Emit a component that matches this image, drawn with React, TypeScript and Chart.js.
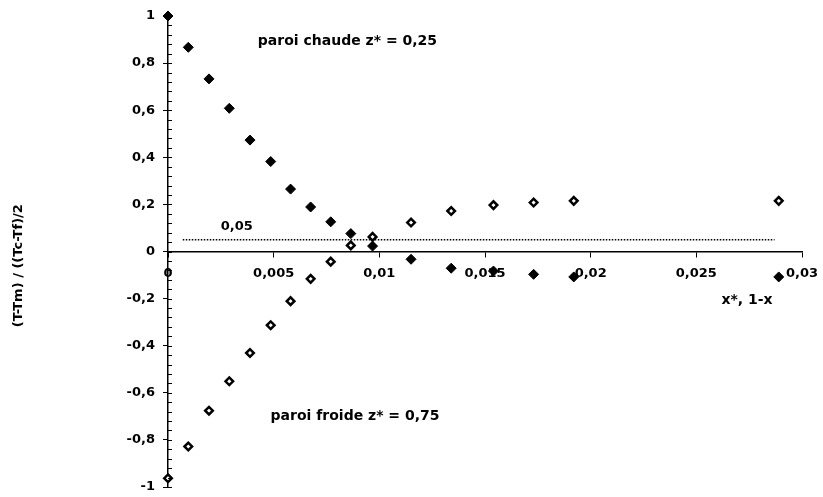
import React, { useEffect, useRef } from "react";
import { Chart, registerables } from "chart.js";

Chart.register(...registerables);

// ---- data ----
const xValues = [0, 0.00096, 0.00194, 0.0029, 0.00388, 0.00486, 0.0058, 0.00675, 0.0077, 0.00865, 0.00968, 0.0115, 0.0134, 0.0154, 0.0173, 0.0192, 0.0289];
const hotWall = [1.0, 0.867, 0.733, 0.608, 0.473, 0.382, 0.265, 0.189, 0.126, 0.076, 0.023, -0.033, -0.071, -0.083, -0.097, -0.108, -0.108];
const coldWall = [-0.963, -0.828, -0.676, -0.551, -0.431, -0.313, -0.211, -0.116, -0.043, 0.026, 0.062, 0.123, 0.172, 0.197, 0.208, 0.215, 0.215];

const thresholdX = [0.0007, 0.0287];
const thresholdY = [0.05, 0.05];

const xTickValues = [0, 0.005, 0.01, 0.015, 0.02, 0.025, 0.03];
const xTickLabels = ["0", "0,005", "0,01", "0,015", "0,02", "0,025", "0,03"];
const yTickValues = [-1, -0.8, -0.6, -0.4, -0.2, 0, 0.2, 0.4, 0.6, 0.8, 1];
const yTickLabels = ["-1", "-0,8", "-0,6", "-0,4", "-0,2", "0", "0,2", "0,4", "0,6", "0,8", "1"];
const yMinorStep = 0.04;

const yTitle = "(T-Tm) / ((Tc-Tf)/2";
const xTitle = "x*, 1-x";
const notes = [
  { text: "paroi chaude z* = 0,25", x: 0.00849, y: 0.891, size: 14 },
  { text: "paroi froide z* = 0,75", x: 0.00885, y: -0.70, size: 14 },
  { text: "0,05", x: 0.00325, y: 0.106, size: 13 },
  { text: xTitle, x: 0.0274, y: -0.206, size: 14 },
];

const FONT = '"DejaVu Sans", "Liberation Sans", Arial, sans-serif';

const decorPlugin = {
  id: "decor",
  afterDraw(chart: any) {
    const { ctx, scales } = chart;
    const x = scales.x;
    const y = scales.y;
    ctx.save();
    // minor ticks on the y axis (right side)
    ctx.strokeStyle = "#000";
    ctx.lineWidth = 1;
    const ax = Math.round(y.right);
    for (let i = 0; ; i++) {
      const v = y.min + i * yMinorStep;
      if (v > y.max + 1e-9) break;
      const py = Math.round(y.getPixelForValue(v)) + 0.5;
      ctx.beginPath();
      ctx.moveTo(ax, py);
      ctx.lineTo(ax + 4, py);
      ctx.stroke();
    }
    // annotations
    ctx.fillStyle = "#000";
    ctx.textAlign = "center";
    ctx.textBaseline = "middle";
    for (const n of notes) {
      ctx.font = `bold ${n.size}px ${FONT}`;
      ctx.fillText(n.text, x.getPixelForValue(n.x), y.getPixelForValue(n.y));
    }
    // y title
    ctx.font = `bold 13px ${FONT}`;
    ctx.translate(19, y.getPixelForValue(-0.06));
    ctx.rotate(-Math.PI / 2);
    ctx.fillText(yTitle, 0, 0);
    ctx.restore();
  },
};

export default function App() {
  const ref = useRef<HTMLCanvasElement>(null);
  useEffect(() => {
    const canvas = ref.current!;
    const chart = new Chart(canvas, {
      type: "scatter",
      data: {
        datasets: [
          {
            label: "paroi chaude",
            data: xValues.map((xv, i) => ({ x: xv, y: hotWall[i] })),
            pointStyle: "rectRot",
            pointRadius: 5,
            backgroundColor: "#000",
            borderColor: "#000",
            borderWidth: 1,
            clip: false,
          } as any,
          {
            label: "paroi froide",
            data: xValues.map((xv, i) => ({ x: xv, y: coldWall[i] })),
            pointStyle: "rectRot",
            pointRadius: 3.8,
            backgroundColor: "#fff",
            borderColor: "#000",
            borderWidth: 2.5,
            clip: false,
          } as any,
          {
            label: "0,05",
            data: thresholdX.map((xv, i) => ({ x: xv, y: thresholdY[i] })),
            showLine: true,
            borderColor: "#000",
            borderWidth: 1.5,
            borderDash: [1.5, 1.5],
            pointRadius: 0,
          } as any,
        ],
      },
      options: {
        responsive: false,
        animation: false,
        layout: { padding: { left: 0, top: 16, right: 21, bottom: 10 } },
        plugins: { legend: { display: false }, tooltip: { enabled: false } },
        scales: {
          x: {
            type: "linear",
            min: 0,
            max: 0.03,
            position: { y: 0 } as any,
            afterFit: (s: any) => {
              s.paddingLeft = 0;
              s.paddingRight = 0;
              s.paddingTop = 0;
              s.paddingBottom = 0;
            },
            afterBuildTicks: (s: any) => {
              s.ticks = xTickValues.map((v) => ({ value: v }));
            },
            ticks: {
              autoSkip: false,
              maxRotation: 0,
              padding: 9,
              color: "#000",
              font: { family: FONT, size: 13, weight: "bold" },
              callback: (_v: any, i: number) => xTickLabels[i],
            },
            grid: { drawOnChartArea: false, tickLength: 5, color: "#000", lineWidth: 1 },
            border: { display: true, color: "#000", width: 1.5 },
          },
          y: {
            type: "linear",
            min: -1,
            max: 1,
            position: "left",
            afterFit: (s: any) => {
              s.width = 168;
              s.paddingTop = 0;
              s.paddingBottom = 0;
            },
            afterBuildTicks: (s: any) => {
              s.ticks = yTickValues.map((v) => ({ value: v }));
            },
            ticks: {
              autoSkip: false,
              padding: 8,
              color: "#000",
              font: { family: FONT, size: 13, weight: "bold" },
              callback: (_v: any, i: number) => yTickLabels[i],
            },
            grid: { drawOnChartArea: false, tickLength: 5, color: "#000", lineWidth: 1 },
            border: { display: true, color: "#000", width: 1.5 },
          },
        },
      },
      plugins: [decorPlugin],
    });
    return () => chart.destroy();
  }, []);
  return (
    <div style={{ position: "absolute", left: 0, top: 0, width: 823, height: 497, background: "#fff" }}>
      <canvas ref={ref} width={823} height={497} style={{ display: "block" }} />
    </div>
  );
}
